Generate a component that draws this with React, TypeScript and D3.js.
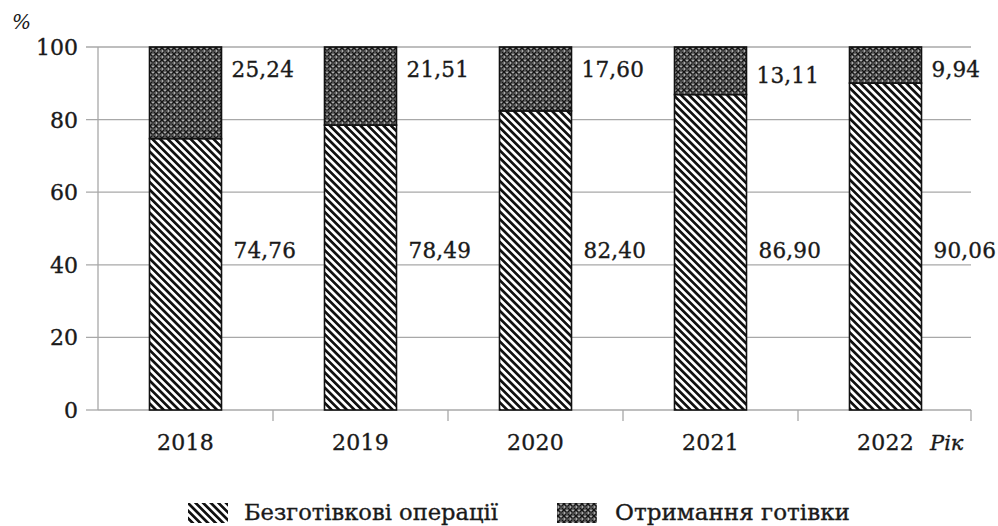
import React from "react";
import * as d3 from "d3";

const years = ["2018", "2019", "2020", "2021", "2022"];
const cashless = [74.76, 78.49, 82.4, 86.9, 90.06];
const cash = [25.24, 21.51, 17.6, 13.11, 9.94];
const cashlessLabels = ["74,76", "78,49", "82,40", "86,90", "90,06"];
const cashLabels = ["25,24", "21,51", "17,60", "13,11", "9,94"];
const yTicks = [0, 20, 40, 60, 80, 100];
const legendNames = ["Безготівкові операції", "Отримання готівки"];

const W = 998;
const H = 526;
const left = 98;
const right = 973;
const top = 47;
const bottom = 410;
const font = "'DejaVu Serif', 'Liberation Serif', serif";

export default function App() {
  const x = d3.scaleBand<string>().domain(years).range([left, right]).paddingInner(0).paddingOuter(0);
  const y = d3.scaleLinear().domain([0, 100]).range([bottom, top]);
  const barW = 72;
  const gridColor = "#a8a8a8";
  const textColor = "#1a1a1a";
  const tStyle = { stroke: textColor, strokeWidth: 0.35 };

  return (
    <svg width={W} height={H} style={{ position: "absolute", left: 0, top: 0, background: "#fff" }}>
      <defs>
        <pattern id="stripes" width="5.4" height="5.4" patternUnits="userSpaceOnUse" patternTransform="rotate(45)">
          <rect width="5.4" height="5.4" fill="#fff" />
          <rect x="0" y="0" width="5.4" height="2.7" fill="#111" />
        </pattern>
        <pattern id="cross" width="6" height="6" patternUnits="userSpaceOnUse">
          <rect width="6" height="6" fill="#6a6a6a" />
          <path d="M0,0 L6,6 M6,0 L0,6" stroke="#111" strokeWidth="1.2" />
          <rect x="2.5" y="0" width="1" height="1" fill="#eee" />
          <rect x="0" y="2.5" width="1" height="1" fill="#eee" />
          <circle cx="3" cy="3" r="0.6" fill="#ccc" />
        </pattern>
      </defs>

      {/* gridlines */}
      {yTicks.filter((t) => t > 0).map((t) => (
        <line key={"g" + t} x1={left - 12} x2={right - 2} y1={y(t)} y2={y(t)} stroke={gridColor} strokeWidth={1.3} />
      ))}
      {/* y axis */}
      <line x1={left} x2={left} y1={y(100)} y2={bottom} stroke={gridColor} strokeWidth={1.3} />
      <line x1={left - 12} x2={left} y1={bottom} y2={bottom} stroke={gridColor} strokeWidth={1.3} />
      {/* x axis */}
      <line x1={left} x2={right - 2} y1={bottom} y2={bottom} stroke={gridColor} strokeWidth={1.3} />
      {years.map((yr) => {
        const tx = (x(yr) as number) + x.bandwidth() - (yr === "2022" ? 2 : 0);
        return <line key={"t" + yr} x1={tx} x2={tx} y1={bottom} y2={bottom + 11} stroke={gridColor} strokeWidth={1.3} />;
      })}

      {/* y tick labels */}
      {yTicks.map((t) => (
        <text key={"yl" + t} x={left - 20} y={y(t)} dy="0.36em" textAnchor="end" fontFamily={font} fontSize={22} fill={textColor} {...tStyle}>
          {t}
        </text>
      ))}
      <text x={12} y={29} fontFamily={font} fontStyle="italic" fontSize={20} fill={textColor}>%</text>

      {/* bars */}
      {years.map((yr, i) => {
        const cx = (x(yr) as number) + x.bandwidth() / 2;
        const x0 = cx - barW / 2;
        const topY = cash[i] < 15 && cash[i] > 10 ? y(92.3) : y(94);
        return (
          <g key={"b" + yr}>
            <rect x={x0} y={y(cashless[i])} width={barW} height={y(0) - y(cashless[i])} fill="url(#stripes)" stroke="#111" strokeWidth={1.6} />
            <rect x={x0} y={y(100)} width={barW} height={y(cashless[i]) - y(100)} fill="url(#cross)" stroke="#111" strokeWidth={1.6} />
            <text x={x0 + barW + 12} y={y(44)} dy="0.36em" fontFamily={font} fontSize={21.5} fill={textColor} letterSpacing={0.2} {...tStyle}>
              {cashlessLabels[i]}
            </text>
            <text x={x0 + barW + 10} y={topY} dy="0.36em" fontFamily={font} fontSize={21.5} fill={textColor} letterSpacing={0.2} {...tStyle}>
              {cashLabels[i]}
            </text>
            <text x={cx} y={442} dy="0.36em" textAnchor="middle" fontFamily={font} fontSize={22} fill={textColor} letterSpacing={0.3} {...tStyle}>
              {yr}
            </text>
          </g>
        );
      })}
      <text x={930} y={442} dy="0.36em" fontFamily={font} fontStyle="italic" fontSize={21} fill={textColor} {...tStyle}>Рік</text>

      {/* legend */}
      <rect x={188} y={503} width={40} height={20} fill="url(#stripes)" />
      <text x={244} y={520} fontFamily={font} fontSize={22} fill={textColor} textLength={254} lengthAdjust="spacingAndGlyphs" {...tStyle}>{legendNames[0]}</text>
      <rect x={557} y={503} width={40} height={20} fill="url(#cross)" />
      <text x={615} y={520} fontFamily={font} fontSize={22} fill={textColor} textLength={235} lengthAdjust="spacingAndGlyphs" {...tStyle}>{legendNames[1]}</text>
    </svg>
  );
}
